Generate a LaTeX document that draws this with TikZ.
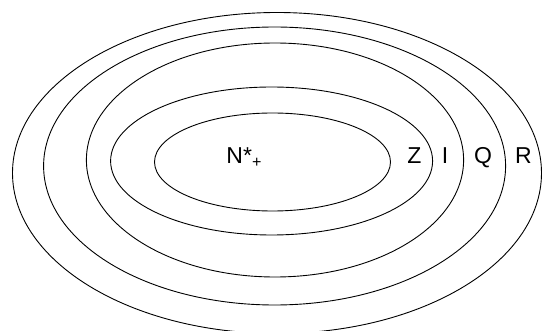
\documentclass[tikz,border=0pt]{standalone}
\usepackage{fontspec}
\setmainfont{Liberation Sans}
\usepackage{tikz}

\begin{document}
\begin{tikzpicture}[x=1pt, y=-1pt, line width=0.9pt]
    \tikzset{setname/.style={inner sep=0pt, anchor=base, font=\fontsize{23}{26}\selectfont}}
    \useasboundingbox (0,0) rectangle (542,331);
    \clip (0,0) rectangle (542,331);
    % Các tập hợp lồng nhau
    \draw (272.5,162) ellipse [x radius=118, y radius=49];
    \draw (271.6,161) ellipse [x radius=161, y radius=74];
    \draw (275,160) ellipse [x radius=188.6, y radius=117];
    \draw (274.6,166) ellipse [x radius=231, y radius=139];
    \draw (277,173) ellipse [x radius=264.5, y radius=160.5];
    % Tên các tập hợp
    \node[setname, anchor=base west] (nplus) at (226,164) {N*\textsubscript{+}};
    \node[setname] (zset) at (414.5,164) {Z};
    \node[setname] (iset) at (445,164) {I};
    \node[setname] (qset) at (483,164) {Q};
    \node[setname] (rset) at (523.5,164) {R};
\end{tikzpicture}
\end{document}
